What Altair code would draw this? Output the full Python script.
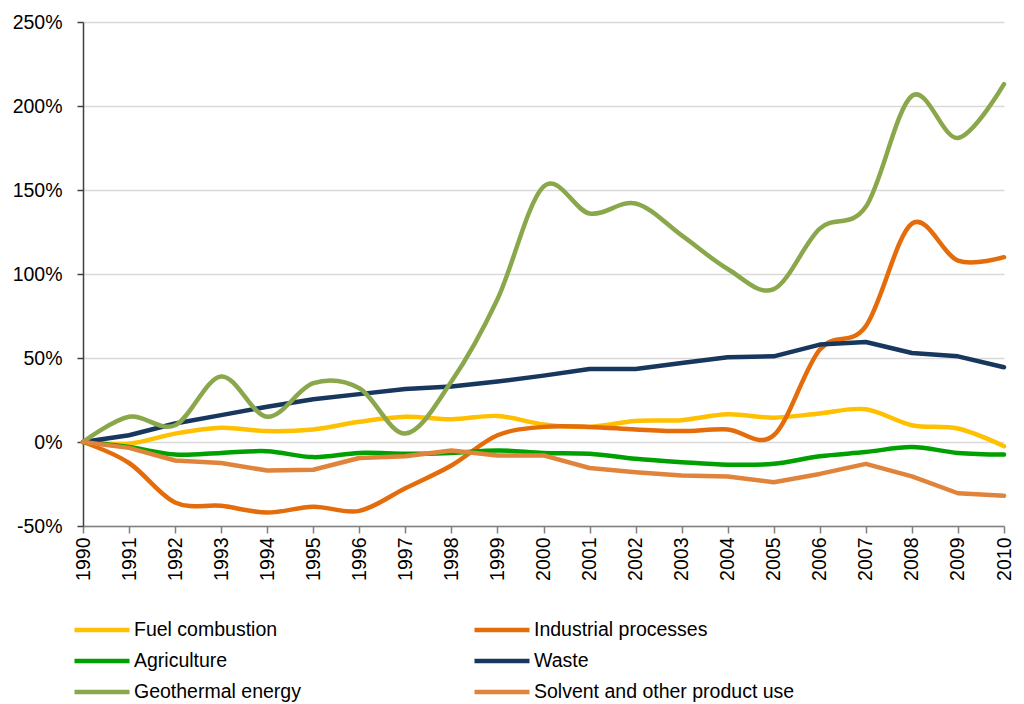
import altair as alt
import pandas as pd

years = list(range(1990, 2011))
series_names = [
    "Fuel combustion",
    "Industrial processes",
    "Agriculture",
    "Waste",
    "Geothermal energy",
    "Solvent and other product use",
]
# legend is filled column by column: left column first, then right column
legend_order = [
    "Fuel combustion",
    "Agriculture",
    "Geothermal energy",
    "Industrial processes",
    "Waste",
    "Solvent and other product use",
]
fuel = [0, -1, 5, 8.5, 6.5, 7.5, 12, 15, 13.5, 15.5, 10.5, 9, 12.5, 13, 16.5, 14.5, 17, 19.5, 10, 8, -2.5]
industrial = [0, -12.5, -36, -38, -42, -38.5, -41, -27.5, -14, 4, 9, 9, 7.5, 6.5, 7.5, 4, 55, 69, 130, 108, 110]
agriculture = [0, -3, -7.5, -6.5, -5.5, -9, -6.5, -7, -6.5, -5, -6.5, -7, -10, -12, -13.5, -13, -8.5, -6, -3, -6.5, -7.5]
waste = [0, 4, 11, 16, 21, 25.5, 28.5, 31.5, 33, 36, 39.5, 43.5, 43.5, 47, 50.5, 51, 58, 59.5, 53, 51, 44.5]
geothermal = [0, 15, 10, 39, 15, 35, 32, 5, 36, 85, 152, 136, 142, 123, 103, 91, 127, 140, 206, 181, 213]
solvent = [0, -3.5, -11, -12.5, -17, -16.5, -9.5, -8.5, -5, -8, -8, -15.5, -18, -20, -20.5, -24, -19, -13, -20.5, -30.5, -32]
color_of = {
    "Fuel combustion": "#FFC000",
    "Industrial processes": "#E46C0A",
    "Agriculture": "#00A000",
    "Waste": "#17375E",
    "Geothermal energy": "#8AA84B",
    "Solvent and other product use": "#E0843C",
}
smoothed = ["Fuel combustion", "Industrial processes", "Agriculture", "Geothermal energy"]
y_ticks = [-50, 0, 50, 100, 150, 200, 250]

rows = []
for name, vals in zip(series_names, [fuel, industrial, agriculture, waste, geothermal, solvent]):
    for yr, v in zip(years, vals):
        rows.append({"year": yr, "value": v, "series": name})
df = pd.DataFrame(rows)

FONT = "Liberation Sans"

x = alt.X(
    "year:Q",
    scale=alt.Scale(domain=[1990, 2010], nice=False, zero=False),
    axis=alt.Axis(
        values=years, format="d", labelAngle=-90, labelAlign="right", labelBaseline="middle",
        labelFlush=False, labelOverlap=False, labelBound=False,
        grid=False, domainColor="#808080", tickColor="#808080", tickSize=7,
        labelPadding=4, labelFontSize=19.5, labelFont=FONT, labelColor="#000000",
        domainWidth=1.5, tickWidth=1.5,
    ),
    title=None,
)
y = alt.Y(
    "value:Q",
    scale=alt.Scale(domain=[-50, 250], nice=False),
    axis=alt.Axis(
        values=y_ticks, labelExpr="datum.value + '%'",
        grid=True, gridColor="#d9d9d9", gridWidth=1.5,
        domainColor="#404040", tickColor="#404040", tickSize=6, domainWidth=1.5, tickWidth=1.5,
        labelPadding=15, labelFontSize=19.5, labelFont=FONT, labelColor="#000000",
    ),
    title=None,
)
color = alt.Color(
    "series:N",
    scale=alt.Scale(domain=legend_order, range=[color_of[n] for n in legend_order]),
    legend=alt.Legend(
        title=None, orient="none", legendX=-11, legendY=598, columns=2,
        columnPadding=171, rowPadding=11, symbolType="stroke", symbolSize=3025,
        symbolStrokeWidth=4.5, clipHeight=20, labelFontSize=19.5, labelFont=FONT,
        labelOffset=2, labelColor="#000000", labelLimit=500, padding=0,
    ),
)

layers = []
for name in series_names:
    interp = "cardinal" if name in smoothed else "linear"
    layers.append(
        alt.Chart(df)
        .transform_filter(alt.datum.series == name)
        .mark_line(strokeWidth=4.5, interpolate=interp, strokeJoin="round", strokeCap="round")
        .encode(x=x, y=y, color=color)
    )

chart = (
    alt.layer(*layers)
    .properties(
        width=921, height=504,
        padding={"left": 75, "top": 14, "right": 12, "bottom": 176},
        autosize=alt.AutoSizeParams(type="none"),
        background="white",
    )
    .configure_view(stroke=None)
)

chart.save("out.html", embed_options={"renderer": "svg", "actions": False})
